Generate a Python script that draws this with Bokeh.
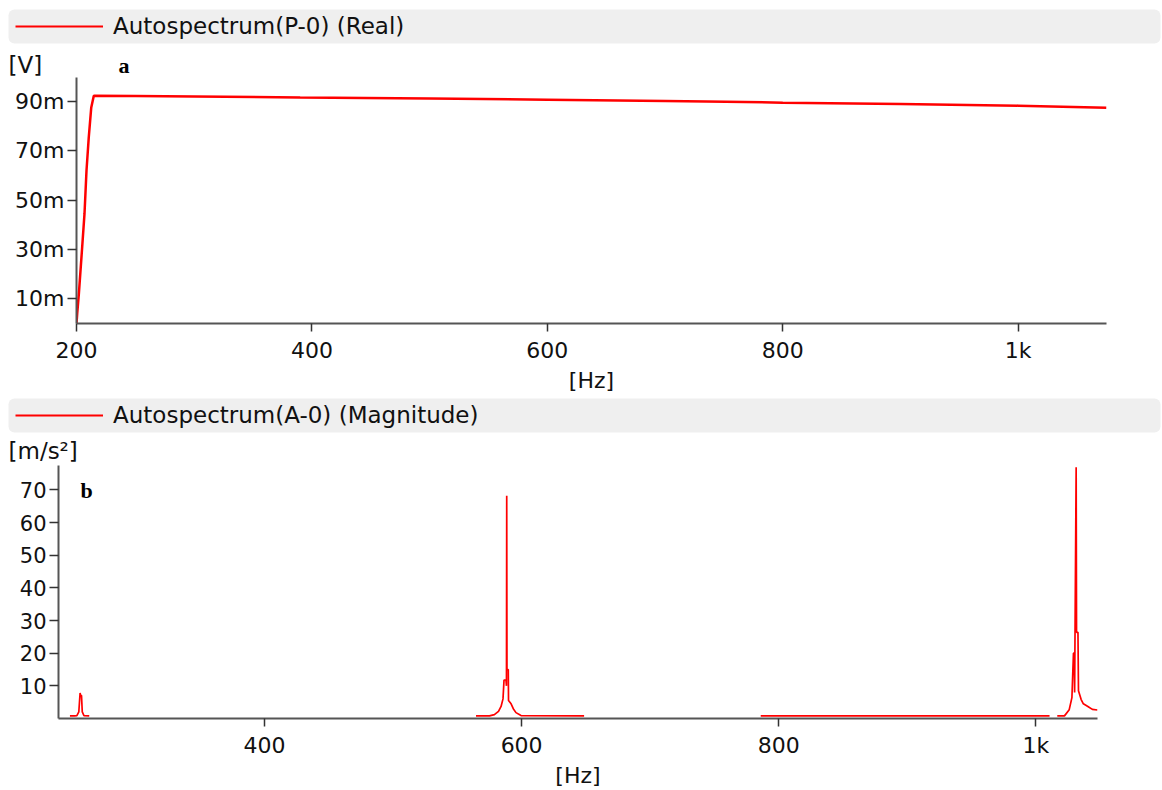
import numpy as np
from bokeh.plotting import figure
from bokeh.layouts import column
from bokeh.models import (FixedTicker, CustomJSTickFormatter, Legend, LegendItem, Label,
                          BoxAnnotation)
from bokeh.embed import file_html
from bokeh.resources import INLINE

FONT = "DejaVu Sans"
RED = "#ff0000"
NaN = np.nan

# ---------------- Panel a : Autospectrum(P-0) (Real) [V] ----------------
freq_p = [200, 200.6, 202.0, 204.8, 206.8, 208.5, 210.4, 212.5, 214.7, 250, 300,
          390, 500, 600, 700, 735, 800, 900, 1000, 1075]
real_p = [0.0, 0.004, 0.012, 0.0308, 0.0445, 0.062, 0.0753, 0.0874, 0.0923, 0.0922,
          0.0920, 0.0916, 0.0912, 0.0907, 0.0902, 0.0900, 0.0895, 0.0890, 0.0883, 0.0874]

# ---------------- Panel b : Autospectrum(A-0) (Magnitude) [m/s²] ----------------
freq_a = [248.6, 252.0, 254.0, 255.5, 256.5, 256.8, 257.6, 258.2, 259.5, 263.6, NaN,
          564.5, 575.0, 578.8, 582.0, 584.0, 585.5, 586.3, 587.8, 588.2, 588.4, 588.6,
          589.6, 589.8, 591.8, 593.5, 595.6, 599.5, 648.6, NaN,
          786.0, 850.0, 900.0, 950.0, 1010.7, NaN,
          1016.7, 1022.3, 1026.0, 1028.1, 1029.3, 1029.9, 1030.2, 1031.4, 1031.7, 1032.8,
          1033.2, 1035.3, 1037.0, 1040.5, 1044.0, 1048.0]
mag_a = [0.8, 0.8, 0.9, 2.0, 7.8, 7.2, 7.0, 2.0, 0.9, 0.8, NaN,
         0.8, 0.8, 1.2, 2.2, 3.7, 6.0, 11.8, 11.8, 10.0, 68.2, 15.0,
         15.0, 5.5, 4.5, 3.0, 1.8, 0.9, 0.8, NaN,
         0.8, 0.8, 0.8, 0.8, 0.8, NaN,
         0.8, 0.8, 2.7, 6.4, 20.0, 20.0, 8.0, 77.0, 26.4, 26.4,
         8.5, 5.8, 4.5, 3.7, 2.8, 2.6]

x_ticks_a = [200, 400, 600, 800, 1000]
y_ticks_a = [0.01, 0.03, 0.05, 0.07, 0.09]
x_ticks_b = [400, 600, 800, 1000]
y_ticks_b = [10, 20, 30, 40, 50, 60, 70]

hz_fmt = CustomJSTickFormatter(code="return tick >= 1000 ? (tick/1000) + 'k' : tick.toFixed(0);")
milli_fmt = CustomJSTickFormatter(code="return (tick*1000).toFixed(0) + 'm';")


def style(p, xt, yt, yfmt=None):
    p.xgrid.visible = False
    p.ygrid.visible = False
    p.outline_line_color = None
    p.background_fill_color = "white"
    p.border_fill_color = "white"
    for ax in (p.xaxis[0], p.yaxis[0]):
        ax.axis_line_color = "#555555"
        ax.axis_line_width = 2
        ax.major_tick_line_color = "#333333"
        ax.major_tick_line_width = 1.5
        ax.major_tick_in = 0
        ax.minor_tick_line_color = None
        ax.major_label_text_font = FONT
        ax.major_label_text_font_size = "22px"
        ax.major_label_text_color = "#111111"
    p.xaxis[0].ticker = FixedTicker(ticks=xt)
    p.yaxis[0].ticker = FixedTicker(ticks=yt)
    p.xaxis[0].formatter = hz_fmt
    if yfmt is not None:
        p.yaxis[0].formatter = yfmt
    p.xaxis[0].major_tick_out = 8
    p.yaxis[0].major_tick_out = 9
    p.xaxis[0].major_label_standoff = 6
    p.yaxis[0].major_label_standoff = 3
    p.xaxis[0].axis_label = "[Hz]"
    p.xaxis[0].axis_label_text_font = FONT
    p.xaxis[0].axis_label_text_font_size = "22px"
    p.xaxis[0].axis_label_text_font_style = "normal"
    p.xaxis[0].axis_label_text_color = "#111111"
    p.xaxis[0].axis_label_standoff = 2


def header_fig(height, bar_bottom, xs, ys, text, unit_text, unit_y, letter=None, letter_xy=None):
    h = figure(width=1162, height=height, x_range=(0, 1), y_range=(0, 1),
               x_axis_type=None, y_axis_type=None, output_backend="svg",
               toolbar_location=None, min_border=0, frame_align=False)
    h.outline_line_color = None
    h.xgrid.visible = False
    h.ygrid.visible = False
    h.background_fill_color = "white"
    h.border_fill_color = "white"
    h.add_layout(BoxAnnotation(left=8, right=1160, bottom=bar_bottom, top=bar_bottom + 34,
                               left_units="screen", right_units="screen",
                               bottom_units="screen", top_units="screen",
                               fill_color="#efefef", fill_alpha=1.0, line_color=None,
                               border_radius=6, level="underlay"))
    # series renderer (its data lies outside this header's ranges; only the key shows)
    key = h.line(xs, ys, line_color=RED, line_width=2)
    leg = Legend(items=[LegendItem(label=text, renderers=[key])], location=(15, bar_bottom),
                 glyph_width=88, glyph_height=34, label_height=34, label_width=900,
                 label_standoff=10, padding=0, margin=0, spacing=0,
                 background_fill_alpha=0.0, border_line_color=None, label_text_font=FONT,
                 label_text_font_size="23px", label_text_color="#111111")
    h.add_layout(leg)
    h.add_layout(Label(x=8, y=unit_y, x_units="screen", y_units="screen", text=unit_text,
                       text_font=FONT, text_font_size="23px", text_color="#111111",
                       text_baseline="bottom"))
    if letter is not None:
        h.add_layout(Label(x=letter_xy[0], y=letter_xy[1], x_units="screen", y_units="screen",
                           text=letter, text_font="Liberation Serif", text_font_style="bold",
                           text_font_size="22px", text_color="#000000",
                           text_baseline="bottom"))
    return h


# ---- top panel ----
ha = header_fig(77, 34, freq_p, real_p, "Autospectrum(P-0) (Real)", "[V]", 0, "a", (118, 0))
pa = figure(width=1162, height=318, x_range=(200, 1075), y_range=(0, 0.0997),
            output_backend="svg", toolbar_location=None, frame_align=False,
            min_border_left=76, min_border_right=56, min_border_top=0, min_border_bottom=72)
pa.line(freq_p, real_p, line_color=RED, line_width=2.5)
style(pa, x_ticks_a, y_ticks_a, milli_fmt)

# ---- bottom panel ----
hb = header_fig(70, 33, freq_a, mag_a, "Autospectrum(A-0) (Magnitude)", "[m/s²]", 2)
pb = figure(width=1162, height=325, x_range=(239.7, 1048), y_range=(0, 77.5),
            output_backend="svg", toolbar_location=None, frame_align=False,
            min_border_left=58, min_border_right=65, min_border_top=0, min_border_bottom=71)
pb.line(freq_a, mag_a, line_color=RED, line_width=1.7)
style(pb, x_ticks_b, y_ticks_b)
pb.yaxis[0].major_label_text_font_size = "21px"
pb.add_layout(Label(x=22, y=216, x_units="screen", y_units="screen", text="b",
                    text_font="Liberation Serif", text_font_style="bold",
                    text_font_size="22px", text_color="#000000", text_baseline="bottom"))

layout = column(ha, pa, hb, pb, spacing=0)
open("out.html", "w").write(file_html(layout, INLINE))
